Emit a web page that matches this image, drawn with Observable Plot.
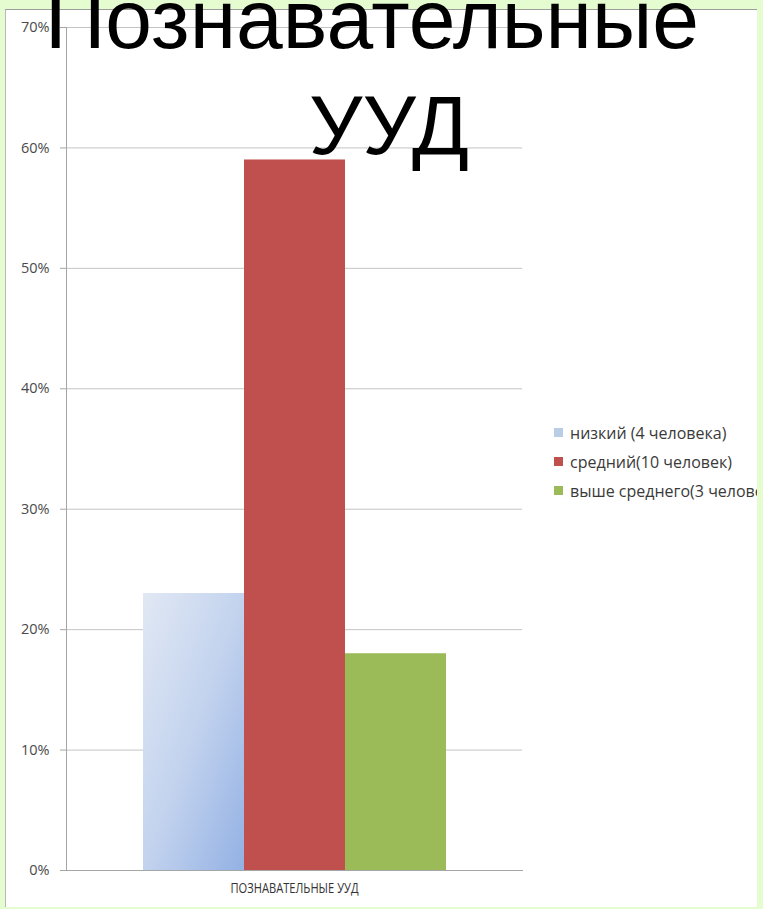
<!DOCTYPE html>
<html><head><meta charset="utf-8">
<script src="https://cdn.jsdelivr.net/npm/d3@7"></script>
<script src="https://cdn.jsdelivr.net/npm/@observablehq/plot@0.6"></script>
<style>
html,body{margin:0;padding:0}
body{background:#e4fcd0;width:763px;height:909px;overflow:hidden;position:relative}
#panel{position:absolute;left:5px;top:9px;width:751px;height:897px;background:#fff;border-top:1px solid #9c9c9c;border-left:1px solid #b8b8b8;overflow:hidden}
#chart{position:absolute;left:0;top:0}
#legend{position:absolute;left:548px;top:408px;font-family:"Open Sans","Noto Sans",sans-serif;font-size:16px;color:#3a3a3a;white-space:nowrap}
.item{height:29px;display:flex;align-items:center}
.sw{width:9px;height:9px;margin-right:7px;flex:none}
#title{position:absolute;left:0;top:-32px;width:744px;text-align:center;font-family:"Liberation Sans",Arial,sans-serif;font-size:84px;line-height:102px;color:#000;z-index:5}
#title .l2{position:relative;left:17px;top:4px}
</style>
</head><body>
<div id="panel"><div id="chart"></div><div id="legend"></div></div>
<div id="title"></div>
<script>
const titleLines = ["Познавательные", "УУД"];
const categories = ["ПОЗНАВАТЕЛЬНЫЕ УУД"];
const series = ["низкий (4 человека)", "средний(10 человек)", "выше среднего(3 человека)"];
const values = [0.23, 0.59, 0.18];
const barFills = ["url(#lowGrad)", "#c0504d", "#9bbb59"];
const legendFills = ["#b9cde5", "#c0504d", "#9bbb59"];
const yTicks = [0, 0.1, 0.2, 0.3, 0.4, 0.5, 0.6, 0.7];

const titleEl = document.getElementById("title");
titleLines.forEach((t, i) => {
  if (i) titleEl.appendChild(document.createElement("br"));
  const s = document.createElement("span");
  s.className = "l" + (i + 1);
  s.textContent = t;
  titleEl.appendChild(s);
});

const data = series.map((s, i) => ({category: categories[0], series: s, value: values[i]}));

const chart = Plot.plot({
  width: 750,
  height: 896,
  marginLeft: 60,
  marginRight: 234,
  marginTop: 17,
  marginBottom: 36,
  style: {background: "transparent", overflow: "visible"},
  fx: {domain: categories, padding: 0, label: null},
  x: {domain: series, paddingInner: 0, paddingOuter: 0.75, axis: null},
  y: {domain: [0, 0.7], label: null},
  color: {domain: series, range: barFills},
  marks: [
    Plot.gridY(yTicks, {stroke: "#c4c4c4", strokeOpacity: 1}),
    Plot.barY(data, {fx: "category", x: "series", y: "value", fill: "series"}),
    Plot.axisY(yTicks, {tickFormat: d3.format(".0%"), tickSize: 6, tickPadding: 11, stroke: "#a6a6a6", fill: "#4a4a4a", fontSize: 14.5, fontFamily: "'Open Sans','Noto Sans',sans-serif", label: null}),
    Plot.axisFx({anchor: "bottom", tickSize: 0, tickPadding: 12, fill: "#333", fontSize: 14.5, fontFamily: "'Open Sans','Noto Sans',sans-serif", label: null}),
    Plot.frame({anchor: "left", stroke: "#a6a6a6"}),
    Plot.frame({anchor: "bottom", stroke: "#a6a6a6"})
  ]
});

const ns = "http://www.w3.org/2000/svg";
const defs = document.createElementNS(ns, "defs");
defs.innerHTML = '<linearGradient id="lowGrad" x1="0" y1="0" x2="1" y2="1"><stop offset="0" stop-color="#e1e8f4"/><stop offset="0.5" stop-color="#c3d3ee"/><stop offset="1" stop-color="#93b1e4"/></linearGradient>';
chart.insertBefore(defs, chart.firstChild);
// narrow the category label like the original's condensed font
chart.querySelectorAll('[aria-label="fx-axis tick label"] text').forEach(t => {
  t.setAttribute("textLength", "128");
  t.setAttribute("lengthAdjust", "spacingAndGlyphs");
});
document.getElementById("chart").appendChild(chart);

const legend = document.getElementById("legend");
series.forEach((s, i) => {
  const it = document.createElement("div");
  it.className = "item";
  const sw = document.createElement("span");
  sw.className = "sw";
  sw.style.background = legendFills[i];
  const tx = document.createElement("span");
  tx.textContent = s;
  it.appendChild(sw); it.appendChild(tx);
  legend.appendChild(it);
});
</script>
</body></html>
